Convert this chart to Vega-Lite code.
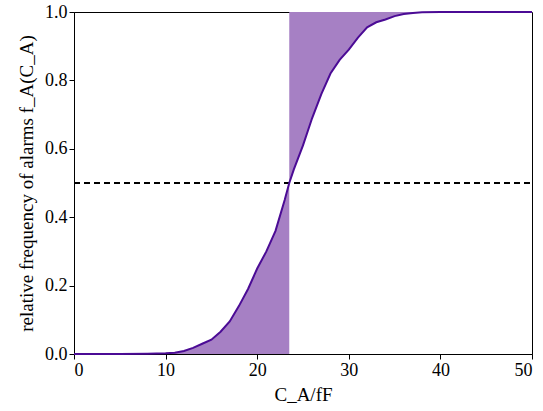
{
  "$schema": "https://vega.github.io/schema/vega-lite/v6.json",
  "autosize": {"type": "none"},
  "padding": {"left": 74, "top": 12, "right": 11, "bottom": 57},
  "width": 458,
  "height": 342,
  "config": {
    "view": {"stroke": "black", "strokeWidth": 1},
    "font": "Liberation Serif",
    "axis": {
      "grid": false,
      "domainColor": "black",
      "tickColor": "black",
      "tickSize": 5,
      "labelFont": "Liberation Serif",
      "labelFontSize": 18,
      "labelColor": "black",
      "titleFont": "Liberation Serif",
      "titleFontSize": 19,
      "titleFontWeight": "normal",
      "titleColor": "black"
    }
  },
  "data": {
    "values": [
      {"c": 0, "f": 0}, {"c": 5, "f": 0}, {"c": 8, "f": 0.001}, {"c": 10, "f": 0.002},
      {"c": 11, "f": 0.004}, {"c": 12, "f": 0.009}, {"c": 13, "f": 0.018}, {"c": 14, "f": 0.03},
      {"c": 15, "f": 0.042}, {"c": 16, "f": 0.065}, {"c": 17, "f": 0.095}, {"c": 18, "f": 0.14},
      {"c": 19, "f": 0.19}, {"c": 20, "f": 0.25}, {"c": 21, "f": 0.3}, {"c": 22, "f": 0.36},
      {"c": 23, "f": 0.45}, {"c": 23.5, "f": 0.5}, {"c": 24, "f": 0.54}, {"c": 25, "f": 0.61},
      {"c": 26, "f": 0.69}, {"c": 27, "f": 0.76}, {"c": 28, "f": 0.82}, {"c": 29, "f": 0.86},
      {"c": 30, "f": 0.89}, {"c": 31, "f": 0.925}, {"c": 32, "f": 0.955}, {"c": 33, "f": 0.97},
      {"c": 34, "f": 0.978}, {"c": 35, "f": 0.988}, {"c": 36, "f": 0.994}, {"c": 37, "f": 0.997},
      {"c": 38, "f": 0.999}, {"c": 40, "f": 1}, {"c": 50, "f": 1}
    ]
  },
  "encoding": {
    "x": {
      "field": "c", "type": "quantitative",
      "scale": {"domain": [0, 50], "nice": false},
      "axis": {"values": [0, 10, 20, 30, 40, 50], "title": "C_A/fF", "titlePadding": 6, "labelFont": "Liberation Serif", "titleFont": "Liberation Serif"}
    }
  },
  "layer": [
    {
      "transform": [{"filter": "datum.c <= 23.5"}],
      "mark": {"type": "area", "color": "#a680c4", "opacity": 1},
      "encoding": {
        "y": {"field": "f", "type": "quantitative"},
        "y2": {"datum": 0}
      }
    },
    {
      "transform": [{"filter": "datum.c >= 23.5"}],
      "mark": {"type": "area", "color": "#a680c4", "opacity": 1},
      "encoding": {
        "y": {"field": "f", "type": "quantitative"},
        "y2": {"datum": 1}
      }
    },
    {
      "mark": {"type": "rule", "color": "black", "strokeWidth": 1.5, "strokeDash": [6, 4]},
      "encoding": {"y": {"datum": 0.5}, "x": {"datum": 0}, "x2": {"datum": 50}}
    },
    {
      "mark": {"type": "line", "color": "#4b0b95", "strokeWidth": 2},
      "encoding": {
        "y": {
          "field": "f", "type": "quantitative",
          "scale": {"domain": [0, 1], "nice": false},
          "axis": {"values": [0, 0.2, 0.4, 0.6, 0.8, 1.0], "format": ".1f", "title": "relative frequency of alarms f_A(C_A)", "titlePadding": 8, "labelFont": "Liberation Serif", "titleFont": "Liberation Serif"}
        }
      }
    }
  ]
}
